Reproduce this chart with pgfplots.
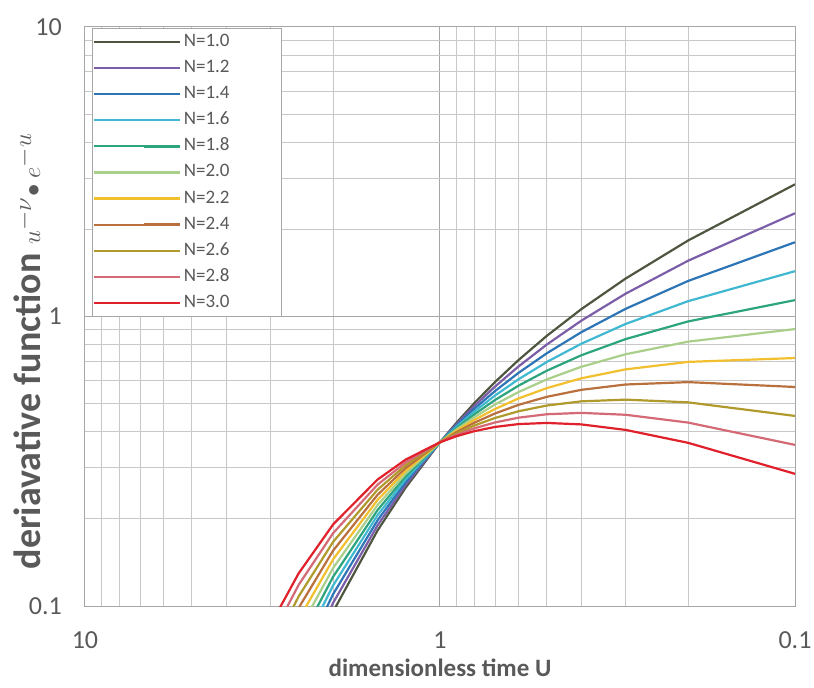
\documentclass[border=0pt]{standalone}
\usepackage{pgfplots}
\pgfplotsset{compat=1.18}
\usepackage{pgfplotstable}
\usepackage{fontspec}
\setmainfont{Carlito}
\definecolor{labgray}{HTML}{595959}
\definecolor{gridmaj}{HTML}{A6A6A6}
\definecolor{gridmin}{HTML}{C8C8C8}
\definecolor{cA}{HTML}{4E5640}
\definecolor{cB}{HTML}{7B5EA7}
\definecolor{cC}{HTML}{2E75B6}
\definecolor{cD}{HTML}{41B8D2}
\definecolor{cE}{HTML}{2CA57E}
\definecolor{cF}{HTML}{A9CF8A}
\definecolor{cG}{HTML}{F2C02E}
\definecolor{cH}{HTML}{B9703D}
\definecolor{cI}{HTML}{B09A2C}
\definecolor{cJ}{HTML}{D46A75}
\definecolor{cK}{HTML}{E0202A}

\pgfplotstableread{
u    n10     n12     n14     n16     n18     n20     n22     n24     n26     n28     n30
0.1  2.86137 2.27285 1.80539 1.43409 1.13911 0.90484 0.71874 0.57091 0.45349 0.36022 0.28614
0.2  1.83073 1.55858 1.32688 1.12963 0.96170 0.81873 0.69702 0.59340 0.50518 0.43008 0.36615
0.3  1.35254 1.19912 1.06310 0.94251 0.83560 0.74082 0.65678 0.58229 0.51624 0.45768 0.40576
0.4  1.05987 0.96707 0.88240 0.80514 0.73464 0.67032 0.61163 0.55808 0.50921 0.46463 0.42395
0.5  0.85776 0.80032 0.74673 0.69672 0.65006 0.60653 0.56591 0.52802 0.49266 0.45966 0.42888
0.6  0.70851 0.67323 0.63970 0.60785 0.57758 0.54881 0.52148 0.49551 0.47083 0.44739 0.42511
0.7  0.59353 0.57273 0.55267 0.53330 0.51462 0.49659 0.47919 0.46240 0.44619 0.43056 0.41547
0.8  0.50237 0.49128 0.48044 0.46984 0.45947 0.44933 0.43941 0.42972 0.42023 0.41096 0.40189
0.9  0.42856 0.42407 0.41963 0.41523 0.41088 0.40657 0.40231 0.39809 0.39392 0.38979 0.38571
1.0  0.36788 0.36788 0.36788 0.36788 0.36788 0.36788 0.36788 0.36788 0.36788 0.36788 0.36788
1.25 0.25626 0.26204 0.26795 0.27400 0.28018 0.28650 0.29297 0.29958 0.30634 0.31325 0.32032
1.5  0.18219 0.18972 0.19757 0.20575 0.21426 0.22313 0.23236 0.24198 0.25199 0.26242 0.27328
2.0  0.09570 0.10257 0.10993 0.11782 0.12627 0.13534 0.14505 0.15546 0.16662 0.17858 0.19139
2.5  0.05191 0.05690 0.06236 0.06834 0.07490 0.08208 0.08996 0.09859 0.10806 0.11842 0.12979
3.0  0.02874 0.03208 0.03581 0.03997 0.04461 0.04979 0.05557 0.06202 0.06922 0.07726 0.08623
}\datatable

\begin{document}
\begin{tikzpicture}
\useasboundingbox (-85bp,-82bp) rectangle (729bp,606bp);
\begin{axis}[
  at={(0,0)}, anchor=south west,
  scale only axis, width=710bp, height=579bp,
  xmode=log, ymode=log, x dir=reverse,
  xmin=0.1, xmax=10, ymin=0.1, ymax=10,
  xtick={0.1,1,10}, xticklabels={0.1,1,10},
  ytick={0.1,1,10}, yticklabels={0.1,1,10},
  minor xtick={0.2,0.3,0.4,0.5,0.6,0.7,0.8,0.9,2,3,4,5,6,7,8,9},
  minor ytick={0.2,0.3,0.4,0.5,0.6,0.7,0.8,0.9,2,3,4,5,6,7,8,9},
  grid=both,
  major grid style={draw=gridmaj, line width=1bp},
  minor grid style={draw=gridmin, line width=1bp},
  major tick length=0pt, minor tick length=0pt,
  axis line style={draw=gridmaj, line width=1bp},
  no markers,
  xticklabel style={anchor=center, inner sep=0pt, yshift=-34bp, text=labgray, font=\fontsize{26bp}{30bp}\selectfont},
  yticklabel style={anchor=east, inner sep=0pt, xshift=-23bp, text=labgray, font=\fontsize{26bp}{30bp}\selectfont},
  xlabel={dimensionless time U},
  xlabel style={at={(axis description cs:0.5,-0.107)}, anchor=center, text=labgray, font=\fontsize{25bp}{30bp}\selectfont\bfseries},
  ylabel={\textbf{deriavative function} $u^{-\nu}\!\bullet e^{-u}$},
  ylabel style={at={(axis description cs:-0.0817,0.44)}, anchor=center, text=labgray, font=\fontsize{38bp}{44bp}\selectfont},
  legend style={at={(axis description cs:0.00986,0.9983)}, anchor=north west,
    draw=gridmaj, line width=1bp, fill=white, text=labgray,
    inner xsep=0pt, inner ysep=5bp, row sep=9.1bp,
    font=\fontsize{19bp}{22bp}\selectfont,
    nodes={inner ysep=0bp, inner xsep=3bp, text height=13bp, text depth=4bp}},
  legend cell align=left,
  legend image code/.code={\path (-50bp,0bp) -- (0bp,0bp); \draw[#1, line width=2.4bp] (0bp,0bp) -- (36bp,0bp);},
]
\addplot[cA, line width=2.2bp] table[x=u,y=n10]{\datatable};
\addlegendentry{\makebox[95bp][l]{N=1.0}}
\addplot[cB, line width=2.2bp] table[x=u,y=n12]{\datatable};
\addlegendentry{\makebox[95bp][l]{N=1.2}}
\addplot[cC, line width=2.2bp] table[x=u,y=n14]{\datatable};
\addlegendentry{\makebox[95bp][l]{N=1.4}}
\addplot[cD, line width=2.2bp] table[x=u,y=n16]{\datatable};
\addlegendentry{\makebox[95bp][l]{N=1.6}}
\addplot[cE, line width=2.2bp] table[x=u,y=n18]{\datatable};
\addlegendentry{\makebox[95bp][l]{N=1.8}}
\addplot[cF, line width=2.2bp] table[x=u,y=n20]{\datatable};
\addlegendentry{\makebox[95bp][l]{N=2.0}}
\addplot[cG, line width=2.2bp] table[x=u,y=n22]{\datatable};
\addlegendentry{\makebox[95bp][l]{N=2.2}}
\addplot[cH, line width=2.2bp] table[x=u,y=n24]{\datatable};
\addlegendentry{\makebox[95bp][l]{N=2.4}}
\addplot[cI, line width=2.2bp] table[x=u,y=n26]{\datatable};
\addlegendentry{\makebox[95bp][l]{N=2.6}}
\addplot[cJ, line width=2.2bp] table[x=u,y=n28]{\datatable};
\addlegendentry{\makebox[95bp][l]{N=2.8}}
\addplot[cK, line width=2.2bp] table[x=u,y=n30]{\datatable};
\addlegendentry{\makebox[95bp][l]{N=3.0}}
\end{axis}
\end{tikzpicture}
\end{document}
